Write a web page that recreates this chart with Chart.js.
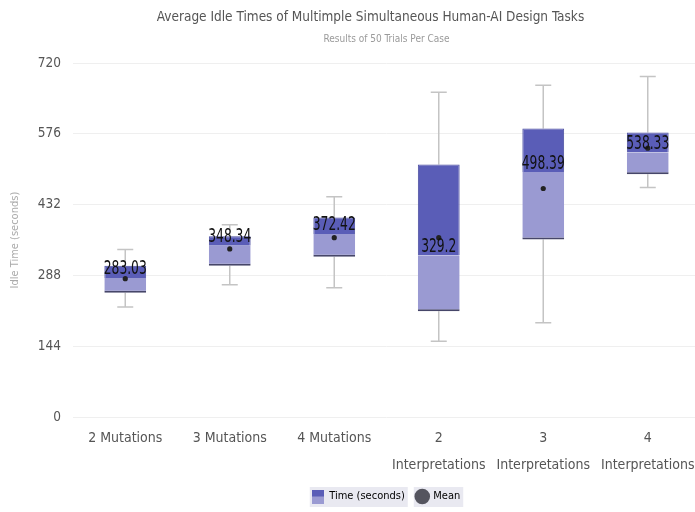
<!DOCTYPE html>
<html>
<head>
<meta charset="utf-8">
<script src="https://cdn.jsdelivr.net/npm/chart.js@4"></script>
<style>
  html, body { margin: 0; padding: 0; background: #fff; overflow: hidden; }
  #wrap { width: 705px; height: 512px; }
</style>
</head>
<body>
<div id="wrap"><canvas id="myChart" width="705" height="512"></canvas></div>
<script>
// box plot values
var categories = ['2 Mutations', '3 Mutations', '4 Mutations',
    ['2', 'Interpretations'], ['3', 'Interpretations'], ['4', 'Interpretations']];
var mins    = [224, 269, 263, 154, 192, 467];
var q1s     = [253, 308, 326, 215, 361, 494];
var medians = [283.03, 348.34, 372.42, 329.2, 498.39, 538.33];
var q3s     = [308, 368, 406, 514, 587, 579];
var maxs    = [341, 391, 448, 661, 675, 693];
var means   = [281.5, 342, 365, 365, 465, 547];
var yTicks  = [0, 144, 288, 432, 576, 720];

var DARK = 'rgb(90, 93, 183)';
var LIGHT = 'rgb(154, 154, 210)';
var FONT = "'DejaVu Sans Condensed', 'DejaVu Sans', sans-serif";

// legend icon: dark top, light bottom
var icon = document.createElement('canvas');
icon.width = 12; icon.height = 14;
var ic = icon.getContext('2d');
ic.fillStyle = DARK; ic.fillRect(0, 0, 12, 7);
ic.fillStyle = LIGHT; ic.fillRect(0, 7, 12, 7);

var lowerBox = [], upperBox = [];
for (var i = 0; i < categories.length; i++) {
    lowerBox.push([q1s[i], medians[i]]);
    upperBox.push([medians[i], q3s[i]]);
}

var whiskers = {
    id: 'whiskers',
    beforeDatasetsDraw: function (chart) {
        var ctx = chart.ctx, xs = chart.scales.x, ys = chart.scales.y;
        ctx.save();
        ctx.strokeStyle = '#c4c4c4';
        ctx.lineWidth = 1.5;
        for (var i = 0; i < categories.length; i++) {
            var x = xs.getPixelForValue(i);
            var pairs = [[mins[i], q1s[i]], [q3s[i], maxs[i]]];
            ctx.beginPath();
            pairs.forEach(function (p) {
                ctx.moveTo(x, ys.getPixelForValue(p[0]));
                ctx.lineTo(x, ys.getPixelForValue(p[1]));
            });
            [mins[i], maxs[i]].forEach(function (v) {
                var y = ys.getPixelForValue(v);
                ctx.moveTo(x - 8, y);
                ctx.lineTo(x + 8, y);
            });
            ctx.stroke();
        }
        ctx.restore();
    },
    afterDatasetsDraw: function (chart) {
        // median values, tall and narrow like the original
        var ctx = chart.ctx, xs = chart.scales.x, ys = chart.scales.y;
        for (var i = 0; i < categories.length; i++) {
            ctx.save();
            ctx.translate(xs.getPixelForValue(i), ys.getPixelForValue(medians[i]) + 1);
            ctx.scale(0.72, 1);
            ctx.font = '19px ' + FONT;
            ctx.fillStyle = '#111';
            ctx.textAlign = 'center';
            ctx.textBaseline = 'bottom';
            ctx.fillText(String(medians[i]), 0, 0);
            ctx.restore();
        }
    }
};

var legendBg = {
    id: 'legendBg',
    beforeDraw: function (chart) {
        var boxes = chart.legend && chart.legend.legendHitBoxes;
        if (!boxes) return;
        var ctx = chart.ctx;
        ctx.save();
        ctx.fillStyle = '#e9e9f1';
        boxes.forEach(function (b) {
            ctx.fillRect(b.left - 3, b.top - 4, b.width + 6, b.height + 9);
        });
        ctx.restore();
    },
    afterLayout: function (chart) {
        // title sits a little left of the plot centre
        chart.titleBlock.right -= 32;
    }
};

var chart = new Chart(document.getElementById('myChart').getContext('2d'), {
    type: 'bar',
    data: {
        labels: categories,
        datasets: [
            {
                label: 'Time (seconds)',
                data: upperBox,
                backgroundColor: DARK,
                borderColor: 'rgb(75, 78, 160)',
                borderWidth: { top: 1, left: 1, right: 1, bottom: 0 },
                borderSkipped: false,
                grouped: false,
                barPercentage: 0.4,
                categoryPercentage: 1
            },
            {
                label: 'lower',
                data: lowerBox,
                backgroundColor: LIGHT,
                borderColor: 'rgb(70, 70, 105)',
                borderWidth: { top: 0, left: 0, right: 0, bottom: 2 },
                borderSkipped: false,
                grouped: false,
                barPercentage: 0.4,
                categoryPercentage: 1
            },
            {
                type: 'line',
                label: 'Mean',
                data: means,
                showLine: false,
                pointRadius: 2.6,
                pointBackgroundColor: '#222',
                pointBorderWidth: 0,
                order: -1
            }
        ]
    },
    options: {
        responsive: false,
        animation: false,
        layout: { padding: { right: 5 } },
        plugins: {
            title: {
                display: true,
                text: 'Average Idle Times of Multimple Simultaneous Human-AI Design Tasks',
                color: '#555',
                fullSize: false,
                font: { family: FONT, size: 13.5, weight: 'normal' },
                padding: { top: 9, bottom: 4 }
            },
            subtitle: {
                display: true,
                text: 'Results of 50 Trials Per Case',
                color: '#9a9a9a',
                fullSize: false,
                font: { family: FONT, size: 10 },
                padding: { top: 4, bottom: 18 }
            },
            legend: {
                position: 'bottom',
                fullSize: false,
                labels: {
                    usePointStyle: true,
                    color: '#8a8a8a',
                    font: { family: FONT, size: 11 },
                    padding: 12,
                    generateLabels: function () {
                        return [
                            { text: 'Time (seconds)', pointStyle: icon, fillStyle: DARK, strokeStyle: DARK, lineWidth: 0, datasetIndex: 0 },
                            { text: 'Mean', pointStyle: 'circle', fillStyle: '#55555f', strokeStyle: '#55555f', lineWidth: 0, datasetIndex: 2 }
                        ];
                    }
                }
            },
            tooltip: { enabled: false }
        },
        scales: {
            x: {
                grid: { display: false, drawTicks: false },
                border: { display: false },
                ticks: {
                    color: '#555',
                    font: { family: FONT, size: 14, lineHeight: 1.93 },
                    padding: 8,
                    maxRotation: 0,
                    autoSkip: false
                },
                afterFit: function (s) { s.height = 62; }
            },
            y: {
                min: 0,
                max: 720,
                afterBuildTicks: function (s) { s.ticks = yTicks.map(function (v) { return { value: v }; }); },
                grid: { color: '#efefef', drawTicks: false },
                border: { display: false },
                ticks: {
                    color: '#555',
                    font: { family: FONT, size: 13.5 },
                    padding: 12
                },
                title: {
                    display: true,
                    text: 'Idle Time (seconds)',
                    color: '#aaa',
                    font: { family: FONT, size: 11 },
                    padding: { top: 9, bottom: 0 }
                },
                afterFit: function (s) { s.width = 73; }
            }
        }
    },
    plugins: [whiskers, legendBg]
});
</script>
</body>
</html>
